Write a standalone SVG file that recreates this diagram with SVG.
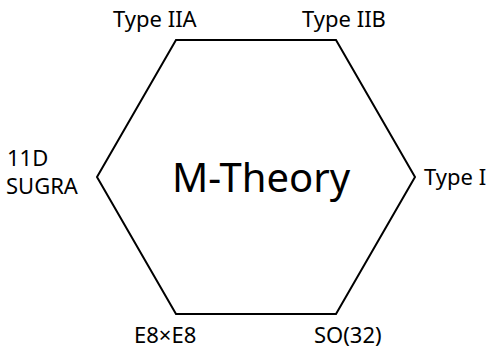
<svg xmlns="http://www.w3.org/2000/svg" width="492" height="348" viewBox="0 0 492 348">
<style>
.lbl{font-family:"Noto Sans","Open Sans",sans-serif;font-size:22px;fill:#000}
.title{font-family:"Noto Sans","Open Sans",sans-serif;font-size:40px;fill:#000}
.edge{fill:none;stroke:#000;stroke-width:2;stroke-linejoin:miter}
</style>
<rect width="492" height="348" fill="#fff"/>
<g id="connectors">
<polygon class="edge" points="176,40 336,40 415,177 336,314 176,314 97,177"/>
</g>
<g id="m-theory"><text class="title" x="261" y="192" text-anchor="middle">M-Theory</text></g>
<g id="type-iia"><text class="lbl" x="113" y="27">Type IIA</text></g>
<g id="type-iib"><text class="lbl" x="302" y="27">Type IIB</text></g>
<g id="type-i"><text class="lbl" x="424" y="185">Type I</text></g>
<g id="so32"><text class="lbl" x="314" y="343">SO(32)</text></g>
<g id="e8e8"><text class="lbl" x="134" y="343">E8×E8</text></g>
<g id="sugra"><text class="lbl" x="7" y="166">11D</text><text class="lbl" x="6" y="194">SUGRA</text></g>
</svg>
